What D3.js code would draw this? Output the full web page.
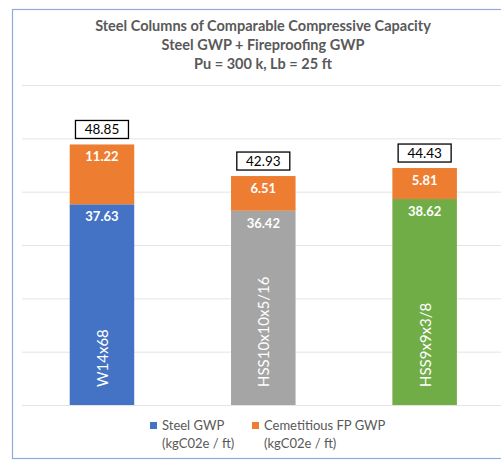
<!DOCTYPE html>
<html><head><meta charset="utf-8">
<script src="https://cdn.jsdelivr.net/npm/d3@7"></script>
<style>body{margin:0;background:#fff}svg{display:block}</style>
</head><body>
<svg id="c" width="501" height="460"></svg>
<script>
const titleLines = ["Steel Columns of Comparable Compressive Capacity","Steel GWP + Fireproofing GWP","Pu = 300 k, Lb = 25 ft"];
const categories = ["W14x68","HSS10x10x5/16","HSS9x9x3/8"];
const steelGWP = [37.63, 36.42, 38.62];
const fireproofGWP = [11.22, 6.51, 5.81];
const totalGWP = [48.85, 42.93, 44.43];
const yTicks = [0,10,20,30,40,50,60];
const steelColors = ["#4472C4","#A5A5A5","#70AD47"];
const fpColor = "#ED7D31";
const legendNames = [["Steel GWP","(kgC02e / ft)"],["Cemetitious FP GWP","(kgC02e / ft)"]];
const legendColors = ["#4472C4", fpColor];

const svg = d3.select("#c");
const font = "Lato, 'Open Sans', sans-serif";
// frame
svg.append("rect").attr("x",12.5).attr("y",9.5).attr("width",520).attr("height",449)
  .attr("fill","#fff").attr("stroke","#8FAADC").attr("stroke-width",1.2);

const x = d3.scaleBand().domain(categories).range([21.3,505.3]).paddingInner(0.6).paddingOuter(0.3);
const y = d3.scaleLinear().domain([0,60]).range([405,85]);

// gridlines
svg.append("g").attr("transform","translate(22,0)")
  .call(d3.axisLeft(y).tickValues(yTicks).tickSize(-490).tickFormat(""))
  .call(g=>g.select(".domain").remove())
  .call(g=>g.selectAll("line").attr("stroke","#E4E4E4").attr("stroke-width",1));

// title
svg.append("g").selectAll("text").data(titleLines).join("text")
  .attr("x",263).attr("y",(d,i)=>31+i*19)
  .attr("text-anchor","middle").attr("font-family",font).attr("font-weight","bold")
  .attr("font-size",14.5).attr("fill","#595959").text(d=>d);

const bw = x.bandwidth();
// steel bars
svg.append("g").selectAll("rect").data(categories).join("rect")
  .attr("x",d=>x(d)).attr("width",bw)
  .attr("y",(d,i)=>y(steelGWP[i])).attr("height",(d,i)=>y(0)-y(steelGWP[i]))
  .attr("fill",(d,i)=>steelColors[i]);
// fp bars
svg.append("g").selectAll("rect").data(categories).join("rect")
  .attr("x",d=>x(d)).attr("width",bw)
  .attr("y",(d,i)=>y(steelGWP[i]+fireproofGWP[i])).attr("height",(d,i)=>y(steelGWP[i])-y(steelGWP[i]+fireproofGWP[i]))
  .attr("fill",fpColor);

// segment labels
const segLab = svg.append("g").attr("font-family",font).attr("font-weight","bold")
  .attr("font-size",13).attr("fill","#fff").attr("text-anchor","middle");
categories.forEach((c,i)=>{
  segLab.append("text").attr("x",x(c)+bw/2).attr("y",y(steelGWP[i])+17).text(steelGWP[i].toFixed(2));
  segLab.append("text").attr("x",x(c)+bw/2).attr("y",y(steelGWP[i]+fireproofGWP[i])+17).text(fireproofGWP[i].toFixed(2));
});

// category labels rotated inside bars
svg.append("g").selectAll("text").data(categories).join("text")
  .attr("transform",d=>`translate(${x(d)+bw/2+6},387) rotate(-90)`)
  .attr("font-family",font).attr("font-size",15).attr("fill","#fff").text(d=>d);

// total boxes
const tg = svg.append("g");
categories.forEach((c,i)=>{
  const top = y(totalGWP[i]);
  const cx = x(c)+bw/2;
  tg.append("rect").attr("x",cx-26.5).attr("y",top-24).attr("width",53).attr("height",18)
    .attr("fill","#fff").attr("stroke","#000").attr("stroke-width",1.3);
  tg.append("text").attr("x",cx).attr("y",top-10).attr("text-anchor","middle")
    .attr("font-family",font).attr("font-size",13.5).attr("fill","#000").text(totalGWP[i].toFixed(2));
});

// legend
const lx = [150, 252];
const lg = svg.append("g").attr("font-family",font).attr("font-size",13).attr("fill","#595959");
legendNames.forEach((n,i)=>{
  lg.append("rect").attr("x",lx[i]).attr("y",422).attr("width",7).attr("height",7).attr("fill",legendColors[i]);
  lg.append("text").attr("x",lx[i]+12).attr("y",430).text(n[0]);
  lg.append("text").attr("x",lx[i]+12).attr("y",448).text(n[1]);
});
</script>
</body></html>
